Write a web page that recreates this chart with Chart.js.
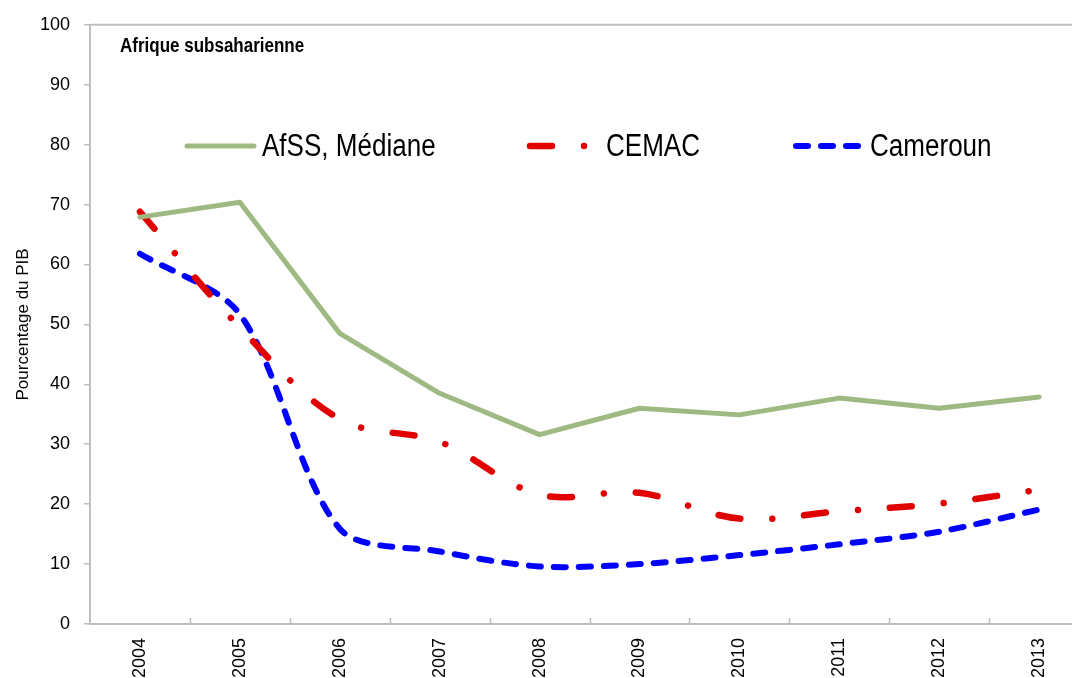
<!DOCTYPE html>
<html>
<head>
<meta charset="utf-8">
<script src="https://cdn.jsdelivr.net/npm/chart.js@4.4.1/dist/chart.umd.min.js"></script>
<style>
  html, body { margin: 0; padding: 0; background: #fff; overflow: hidden; }
  #wrap { position: relative; width: 1090px; height: 678px; }
</style>
</head>
<body>
<div id="wrap"><canvas id="chart"></canvas></div>
<script>
// data
const years = ['2004', '2005', '2006', '2007', '2008', '2009', '2010', '2011', '2012', '2013'];
const afssMediane = [67.9, 70.4, 48.5, 38.5, 31.6, 36.0, 34.9, 37.7, 36.0, 37.9];
const cemac = [68.8, 49.5, 34.2, 30.4, 21.6, 21.9, 17.6, 18.8, 20.1, 22.4];
const cameroun = [61.8, 51.7, 15.9, 12.1, 9.6, 10.0, 11.5, 13.3, 15.4, 19.1];
const yTicks = [0, 10, 20, 30, 40, 50, 60, 70, 80, 90, 100];

const FONT = "'Liberation Sans', Arial, sans-serif";
Chart.defaults.font.family = FONT;
Chart.defaults.color = '#000';

const axisGray = '#bfbfbf';

// text squeezed horizontally, the original uses a narrow face
function narrowText(ctx, text, x, y, squeeze) {
  ctx.save();
  ctx.translate(x, y);
  ctx.scale(squeeze, 1);
  ctx.fillText(text, 0, 0);
  ctx.restore();
}

// legend, panel title, top border and inward x ticks
const extras = {
  id: 'extras',
  afterDraw(chart) {
    const ctx = chart.ctx;
    const area = chart.chartArea;
    const x = chart.scales.x;
    ctx.save();

    // top border
    ctx.strokeStyle = axisGray;
    ctx.lineWidth = 2;
    ctx.beginPath();
    ctx.moveTo(area.left, area.top);
    ctx.lineTo(area.right, area.top);
    ctx.stroke();

    // tick marks between categories, pointing up
    ctx.lineWidth = 1.5;
    for (let i = 0; i < years.length - 1; i++) {
      const px = Math.round((x.getPixelForTick(i) + x.getPixelForTick(i + 1)) / 2) + 0.5;
      ctx.beginPath();
      ctx.moveTo(px, area.bottom);
      ctx.lineTo(px, area.bottom - 6);
      ctx.stroke();
    }

    // panel title
    ctx.fillStyle = '#000';
    ctx.font = 'bold 20px ' + FONT;
    ctx.textBaseline = 'middle';
    ctx.textAlign = 'left';
    narrowText(ctx, 'Afrique subsaharienne', 120, 46, 0.85);

    // legend
    const ly = 146;
    const items = [
      { label: 'AfSS, Médiane', color: '#9fb982', width: 5, dash: [], x0: 187, x1: 254, tx: 262 },
      { label: 'CEMAC', color: '#e00000', width: 6.5, dash: [22, 32, 0.01, 32], x0: 530, x1: 592, tx: 606 },
      { label: 'Cameroun', color: '#0000ff', width: 6, dash: [12, 13], x0: 796, x1: 862, tx: 870 }
    ];
    ctx.font = '31px ' + FONT;
    items.forEach(it => {
      ctx.strokeStyle = it.color;
      ctx.lineWidth = it.width;
      ctx.lineCap = 'round';
      ctx.setLineDash(it.dash);
      ctx.beginPath();
      ctx.moveTo(it.x0, ly);
      ctx.lineTo(it.x1, ly);
      ctx.stroke();
      ctx.setLineDash([]);
      narrowText(ctx, it.label, it.tx, ly + 1, 0.84);
    });
    ctx.restore();
  }
};

new Chart(document.getElementById('chart'), {
  type: 'line',
  data: {
    labels: years,
    datasets: [
      {
        label: 'AfSS, Médiane',
        data: afssMediane,
        borderColor: '#9fb982',
        borderWidth: 5,
        tension: 0,
        pointRadius: 0,
        borderCapStyle: 'round',
        borderJoinStyle: 'round'
      },
      {
        label: 'CEMAC',
        data: cemac,
        borderColor: '#e00000',
        borderWidth: 6.5,
        borderDash: [22, 32, 0.01, 32],
        borderCapStyle: 'round',
        tension: 0.35,
        pointRadius: 0
      },
      {
        label: 'Cameroun',
        data: cameroun,
        borderColor: '#0000ff',
        borderWidth: 6,
        borderDash: [12, 13],
        borderCapStyle: 'round',
        tension: 0.3,
        pointRadius: 0
      }
    ]
  },
  options: {
    responsive: true,
    maintainAspectRatio: false,
    animation: false,
    layout: { padding: { top: 20, right: 1, left: 0, bottom: 0 } },
    plugins: {
      legend: { display: false },
      tooltip: { enabled: false }
    },
    scales: {
      x: {
        offset: true,
        grid: { display: false, offset: true },
        border: { color: axisGray, width: 2 },
        ticks: {
          minRotation: 90,
          maxRotation: 90,
          padding: 6,
          font: { size: 18 }
        },
        afterFit(scale) { scale.height = 54; }
      },
      y: {
        min: 0,
        max: 100,
        afterBuildTicks(scale) { scale.ticks = yTicks.map(v => ({ value: v })); },
        grid: { drawOnChartArea: false, drawTicks: true, tickLength: 6, color: axisGray, lineWidth: 1.5 },
        border: { color: axisGray, width: 2 },
        ticks: { padding: 14, font: { size: 18 } },
        title: {
          display: true,
          text: 'Pourcentage du PIB',
          font: { size: 17 },
          padding: { top: 13, bottom: 0 }
        },
        afterFit(scale) { scale.width = 90; }
      }
    }
  },
  plugins: [extras]
});
</script>
</body>
</html>
